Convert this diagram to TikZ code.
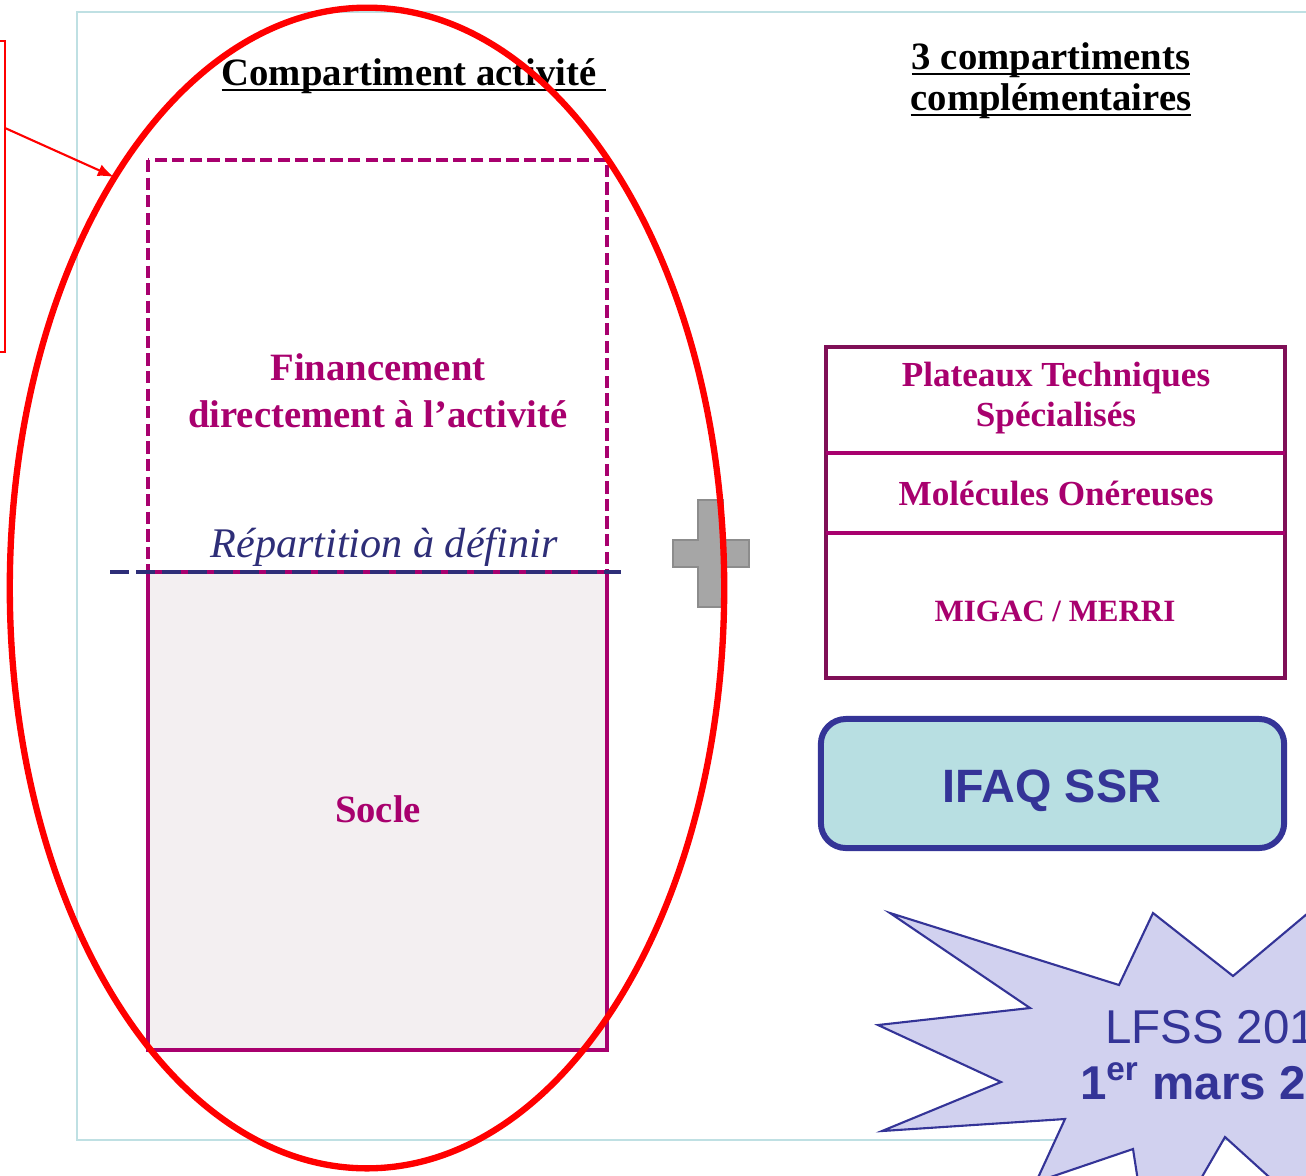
\documentclass[tikz,border=0pt]{standalone}
\usepackage{fontspec}
\setmainfont{Liberation Serif}
\newfontfamily\arialfont{Liberation Sans}
\definecolor{prune}{HTML}{A8006E}
\definecolor{bordeaux}{HTML}{7F0F57}
\definecolor{marine}{HTML}{2E2E78}
\definecolor{indigo}{HTML}{343497}
\definecolor{turquoise}{HTML}{B8DFE2}
\definecolor{lavande}{HTML}{D1D1EF}
\definecolor{cadre}{HTML}{BFE0E3}
\definecolor{fondsocle}{HTML}{F3EFF1}
\definecolor{gris}{HTML}{A6A6A6}
\definecolor{grisfonce}{HTML}{8C8C8C}
\newcommand{\souligne}[1]{\underline{\raisebox{0pt}[\height][0pt]{#1}}}

\begin{document}
\begin{tikzpicture}[x=0.01cm, y=-0.01cm, every node/.style={inner sep=0pt, outer sep=0pt, anchor=base},
  titre/.style={font=\fontsize{11}{12}\selectfont\bfseries},
  case/.style={text=prune, font=\fontsize{10}{11.4}\selectfont\bfseries}]
\useasboundingbox (0,0) rectangle (1306,1175);
\clip (0,0) rectangle (1306,1175);
\draw[cadre, line width=0.5pt] (77,12) rectangle (1360,1140);

\draw[red, line width=0.7pt] (-30,41) rectangle (5,352);
\coordinate (depart) at (5,128);
\coordinate (cible) at (114,177);
\draw[red, line width=0.6pt, -latex] (depart) -- (cible);

\draw[prune, line width=0.9pt, dash pattern=on 3.5pt off 1.5pt] (148,160) rectangle (607,572);
\draw[prune, fill=fondsocle, line width=0.9pt] (148,572) rectangle (607,1050);
\draw[marine, line width=1.2pt, dash pattern=on 5.4pt off 2pt] (110,572) -- (621,572);

\node[titre] (compartiment) at (414,85) {\souligne{Compartiment activité\ }};
\node[titre] (compartiments) at (1051,69) {\souligne{3 compartiments}};
\node[titre] (complementaires) at (1051,110) {\souligne{complémentaires}};
\node[titre, text=prune] (financement) at (378,380) {Financement};
\node[titre, text=prune] (activite) at (378,427) {directement à l’activité};
\node[text=marine, font=\fontsize{12}{14}\selectfont\itshape] (repartition) at (384,557) {Répartition à définir};
\node[titre, text=prune] (socle) at (378,822) {Socle};

\filldraw[fill=gris, draw=grisfonce, line width=0.4pt] (698,500) -- (723,500) -- (723,540) -- (749,540) -- (749,567) -- (723,567) -- (723,607) -- (698,607) -- (698,567) -- (673,567) -- (673,540) -- (698,540) -- cycle;
\draw[red, line width=1.8pt] (367,588) ellipse [x radius=3.57cm, y radius=5.8cm];

\draw[bordeaux, line width=0.9pt] (826,347) rectangle (1285,678);
\draw[prune, line width=1.2pt] (826,453) -- (1285,453);
\draw[prune, line width=1.2pt] (826,533) -- (1285,533);
\node[case] (plateaux) at (1056,386) {Plateaux Techniques};
\node[case] (specialises) at (1056,426) {Spécialisés};
\node[case] (molecules) at (1056,505) {Molécules Onéreuses};
\node[case, font=\fontsize{8.8}{10}\selectfont\bfseries] (migac) at (1055,621) {MIGAC / MERRI};

\node[anchor=center, draw=indigo, fill=turquoise, line width=1.7pt, rounded corners=0.25cm, minimum width=4.63cm, minimum height=1.29cm] (ifaq) at (1052.5,783.5) {};
\node[text=indigo, font=\arialfont\bfseries\fontsize{13.3}{16}\selectfont] (sigle) at (1052,802) {IFAQ SSR};

\filldraw[fill=lavande, draw=indigo, line width=0.6pt] (890,913) -- (1119,985) -- (1153,913) -- (1233,976) -- (1345,882) -- (1450,950) -- (1450,1230) -- (1300,1205) -- (1225,1137) -- (1151,1265) -- (1133,1149) -- (1036,1182) -- (1065,1119) -- (882,1131) -- (1001,1082) -- (878,1025) -- (1030,1008) -- cycle;
\node[anchor=base west, text=indigo, font=\arialfont\fontsize{13.5}{16}\selectfont] (lfss) at (1105,1043) {LFSS 201};
\node[anchor=base west, text=indigo, font=\arialfont\bfseries\fontsize{13.5}{16}\selectfont] (mars) at (1080,1099) {1\textsuperscript{er} mars 20};
\end{tikzpicture}
\end{document}
